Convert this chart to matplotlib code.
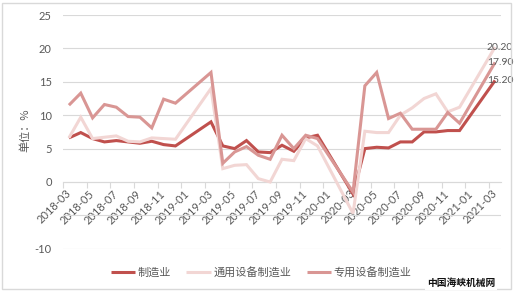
import numpy as np
import matplotlib
matplotlib.use("Agg")
import matplotlib.pyplot as plt
from matplotlib.patches import Rectangle

plt.rcParams['font.family'] = ['Noto Sans CJK SC', 'DejaVu Sans']

nan = np.nan
months = ['2018-03', '2018-04', '2018-05', '2018-06', '2018-07', '2018-08', '2018-09',
          '2018-10', '2018-11', '2018-12', '2019-01', '2019-02', '2019-03', '2019-04',
          '2019-05', '2019-06', '2019-07', '2019-08', '2019-09', '2019-10', '2019-11',
          '2019-12', '2020-01', '2020-02', '2020-03', '2020-04', '2020-05', '2020-06',
          '2020-07', '2020-08', '2020-09', '2020-10', '2020-11', '2020-12', '2021-01',
          '2021-02', '2021-03']

manufacturing = [6.6, 7.4, 6.5, 6.0, 6.2, 6.0, 5.8, 6.1, 5.6, 5.4, nan, nan, 9.0,
                 5.4, 5.0, 6.2, 4.5, 4.4, 5.5, 4.6, 6.6, 7.0, nan, nan, -1.8,
                 5.0, 5.2, 5.1, 6.0, 6.0, 7.5, 7.5, 7.7, 7.7, nan, nan, 15.2]
general_equip = [6.6, 9.7, 6.5, 6.7, 6.9, 6.1, 6.0, 6.6, 6.5, 6.4, nan, nan, 14.0,
                 2.0, 2.5, 2.6, 0.5, 0.0, 3.4, 3.2, 6.5, 5.4, nan, nan, -4.7,
                 7.6, 7.4, 7.4, 10.0, 11.1, 12.5, 13.2, 10.5, 11.2, nan, nan, 20.2]
special_equip = [11.5, 13.3, 9.6, 11.6, 11.2, 9.8, 9.7, 8.1, 12.4, 11.8, nan, nan, 16.4,
                 2.8, 4.5, 5.3, 4.0, 3.4, 7.0, 5.0, 7.0, 6.5, nan, nan, -1.5,
                 14.4, 16.4, 9.5, 10.3, 7.9, 7.9, 7.9, 10.4, 8.8, nan, nan, 17.9]

series_names = ['制造业', '通用设备制造业', '专用设备制造业']
series_values = [manufacturing, general_equip, special_equip]
series_colors = ['#C0504D', '#F2D6D4', '#D99694']
end_labels = ['15.20', '20.20', '17.90']

W, H = 520, 291
fig = plt.figure(figsize=(W / 100, H / 100), dpi=100)
ax = fig.add_axes([63 / W, (H - 248.8) / H, (501 - 63) / W, (248.8 - 15) / H])

TXT = '#595959'
GRID = '#D9D9D9'

x = np.arange(len(months))
for i, (name, vals, col) in enumerate(zip(series_names, series_values, series_colors)):
    v = np.array(vals, dtype=float)
    m = ~np.isnan(v)
    ax.plot(x[m], v[m], color=col, lw=2.2, label=name, zorder=3 + i,
            solid_joinstyle='miter', solid_capstyle='butt')

for vals, lab in zip(series_values, end_labels):
    ax.annotate(lab, (x[-1], vals[-1]), xytext=(5, 0), textcoords='offset pixels',
                ha='center', va='center', fontsize=7.5, color=TXT,
                family=['Lato', 'DejaVu Sans'], zorder=10, annotation_clip=False)

ax.set_xlim(-0.5, len(months) - 0.5)
ax.set_ylim(-10, 25)
yt = list(range(-10, 30, 5))
ax.set_yticks(yt)
ax.set_yticklabels([('' if v == -5 else str(v)) for v in yt],
                   family=['Lato', 'DejaVu Sans'], fontsize=8, color=TXT)
ax.tick_params(axis='y', length=0, pad=8)
ax.grid(axis='y', color=GRID, lw=0.8, zorder=0)
ax.set_axisbelow(True)

for s in ['left', 'right', 'top']:
    ax.spines[s].set_visible(False)
ax.spines['bottom'].set_position(('data', 0))
ax.spines['bottom'].set_color(GRID)
ax.spines['bottom'].set_linewidth(0.8)

ax.set_xticks(np.arange(-0.5, len(months), 2))
ax.set_xticklabels([])
ax.tick_params(axis='x', which='major', length=4, color=GRID, direction='out', width=0.8)
ax.set_xticks(x[::2], minor=True)
ax.set_xticklabels([months[i] for i in x[::2]], minor=True, rotation=45,
                   ha='right', va='center', rotation_mode='anchor',
                   family=['Lato', 'DejaVu Sans'], fontsize=8, color=TXT)
ax.tick_params(axis='x', which='minor', length=0, pad=7)

fig.text(25 / W, 1 - 130 / H, '单位：%', rotation=90, ha='center', va='center',
         fontsize=8, color=TXT)

leg = fig.legend(loc='center', bbox_to_anchor=(261 / W, 1 - 272 / H), ncol=3,
                 frameon=False, fontsize=8, handlelength=2.2, handletextpad=0.2,
                 columnspacing=1.4, labelcolor=TXT)

fig.patches.append(Rectangle((2 / W, 2 / H), 509 / W, 286 / H, transform=fig.transFigure,
                             fill=False, edgecolor=GRID, lw=1, zorder=0))

fig.text(495 / W, 1 - 283 / H, '中国海峡机械网', ha='right', va='center', fontsize=7,
         color='#111111', fontweight='bold',
         bbox=dict(facecolor='white', edgecolor='none', pad=1.5))

fig.savefig('out.png', dpi=100, facecolor='white')
